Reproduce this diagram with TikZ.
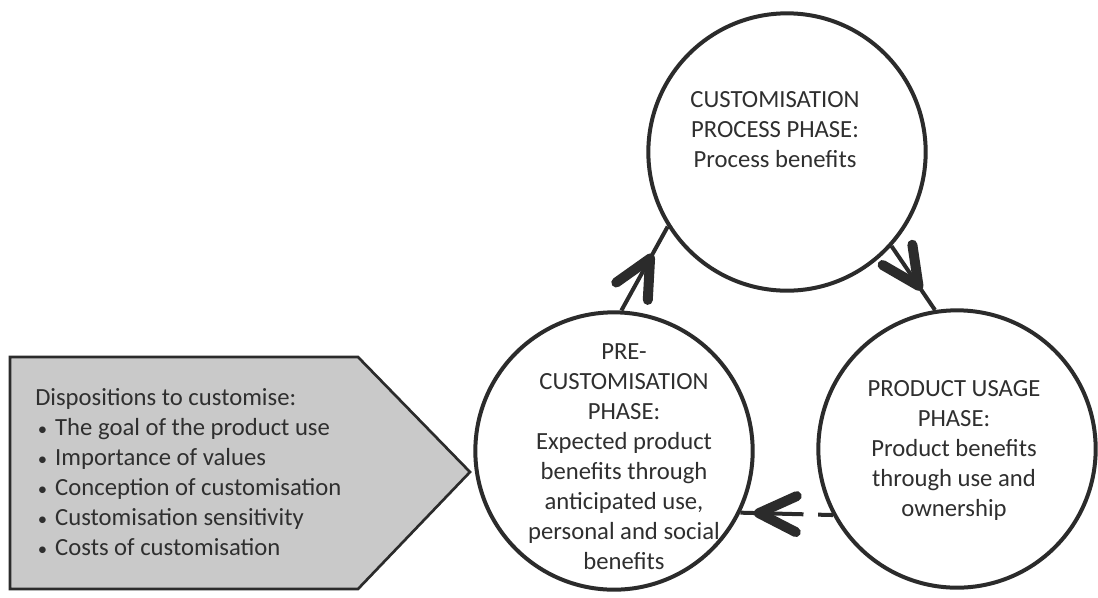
\documentclass[tikz,border=0pt]{standalone}
\usepackage{fontspec}
\setmainfont{Carlito}
\usetikzlibrary{decorations.markings}
\definecolor{ink}{HTML}{2B2B2B}
\definecolor{txt}{HTML}{2F2F2F}
\definecolor{boxgray}{HTML}{C9C9C9}
\newcommand{\dispbullet}{\hspace{2pt}{\fontsize{14}{14}\selectfont •}\hspace{6pt}}
\tikzset{
  phase/.style={circle, draw=ink, line width=3pt, fill=white, minimum size=208pt, inner sep=0pt},
  ctext/.style={align=center, text=txt, font=\fontsize{18.5}{22.5}\selectfont, inner sep=0pt},
  ltext/.style={align=left, text=txt, font=\fontsize{18.5}{22.5}\selectfont, inner sep=0pt, anchor=west},
  link/.style={draw=ink, line width=3pt},
  barbat/.style={postaction={decorate}, decoration={markings, mark=at position #1 with {
      \draw[ink, solid, line width=7.5pt, line cap=round, line join=round] (-28pt,13.5pt) -- (0pt,0pt) -- (-28pt,-13.5pt);}}},
  disp/.style={draw=ink, line width=2pt, fill=boxgray, line join=miter}
}
\begin{document}
\begin{tikzpicture}[x=0.75pt, y=-0.75pt]
\useasboundingbox (0,0) rectangle (1098,597);
% disposition pentagon
\draw[disp] (10,357) -- (358,357) -- (470,472) -- (358,589) -- (10,589) -- cycle;
\node[ltext] (disptext) at (35,472) {Dispositions to customise:\\
\dispbullet The goal of the product use\\
\dispbullet Importance of values\\
\dispbullet Conception of customisation\\
\dispbullet Customisation sensitivity\\
\dispbullet Costs of customisation};
% circles
\node[phase] (top) at (787,152) {};
\node[phase] (pre) at (614,451) {};
\node[phase] (use) at (957,449) {};
% connectors
\draw[link, barbat=0.62] (pre.87) -- (top.212);
\draw[link, barbat=0.62] (top.318) -- (use.99);
\draw[link, dash pattern=on 11pt off 11pt on 60pt off 1pt, barbat=0.8] (use.208) -- (pre.334);
% texts
\node[ctext] (toptext) at (775,130) {CUSTOMISATION\\PROCESS PHASE:\\Process benefits};
\node[ctext] (pretext) at (624,457) {PRE-\\CUSTOMISATION\\PHASE:\\Expected product\\benefits through\\anticipated use,\\personal and social\\benefits};
\node[ctext] (usetext) at (954,450) {PRODUCT USAGE\\PHASE:\\Product benefits\\through use and\\ownership};
\end{tikzpicture}
\end{document}
